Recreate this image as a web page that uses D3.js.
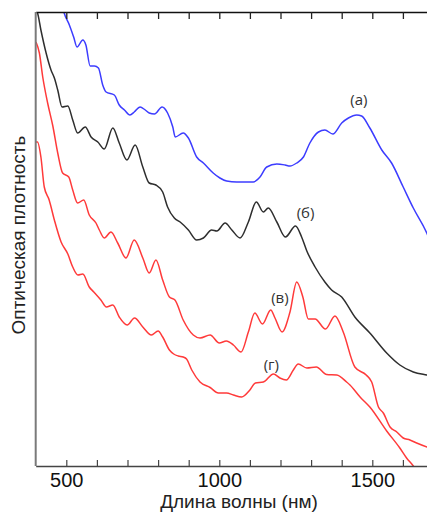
<!DOCTYPE html>
<html>
<head>
<meta charset="utf-8">
<script src="https://cdn.jsdelivr.net/npm/d3@7"></script>
<style>
  body { margin:0; background:#fff; }
  svg { display:block; }
  .tick text { font-family:"Liberation Sans", Arial, sans-serif; font-size:20px; fill:#111; }
  .curve-label { font-family:"Open Sans", sans-serif; font-size:15px; fill:#333; }
  .axis-title { font-family:"Liberation Sans", Arial, sans-serif; font-size:19px; fill:#222; }
</style>
</head>
<body>
<div id="chart"></div>
<script>
// spectra: [wavelength nm, optical density (arb. units)]
var curveA = [[486,4.61],[493,4.53],[510,4.41],[524,4.29],[535,4.19],[554,4.26],[564,4.21],[578,4.00],[592,4.00],
  [605,3.98],[619,3.81],[630,3.74],[657,3.71],[673,3.61],[690,3.56],[708,3.51],[722,3.54],[741,3.59],[758,3.56],
  [771,3.53],[788,3.52],[813,3.59],[831,3.53],[848,3.39],[856,3.29],[882,3.33],[899,3.28],[926,3.09],[948,3.03],
  [980,2.93],[1002,2.88],[1024,2.85],[1057,2.84],[1111,2.84],[1133,2.89],[1155,2.99],[1188,3.02],[1215,3.01],
  [1231,3.00],[1253,3.03],[1275,3.09],[1296,3.23],[1324,3.34],[1345,3.36],[1371,3.32],[1400,3.43],[1422,3.48],
  [1449,3.51],[1465,3.50],[1492,3.38],[1531,3.16],[1563,3.03],[1601,2.79],[1634,2.58],[1678,2.33],[1695,2.20]];

var curveB = [[401,4.56],[406,4.53],[417,4.36],[434,4.13],[450,3.96],[461,3.88],[472,3.76],[486,3.59],[505,3.60],
  [521,3.46],[537,3.33],[562,3.39],[581,3.29],[603,3.24],[624,3.17],[652,3.38],[673,3.23],[698,3.06],[725,3.21],
  [750,2.99],[771,2.83],[793,2.81],[815,2.74],[831,2.59],[853,2.48],[872,2.44],[899,2.36],[926,2.26],[948,2.28],
  [975,2.36],[992,2.35],[1019,2.43],[1041,2.36],[1068,2.28],[1095,2.44],[1121,2.64],[1144,2.54],[1160,2.58],
  [1188,2.44],[1216,2.29],[1249,2.40],[1269,2.29],[1286,2.15],[1313,1.99],[1345,1.84],[1367,1.76],[1400,1.69],
  [1443,1.49],[1492,1.33],[1547,1.13],[1590,1.01],[1634,0.94],[1678,0.91],[1695,0.90]];

var curveV = [[401,4.24],[412,4.13],[423,3.89],[439,3.63],[456,3.40],[472,3.13],[488,2.93],[508,2.89],[521,2.76],
  [537,2.63],[557,2.66],[575,2.51],[597,2.43],[608,2.36],[624,2.28],[646,2.34],[668,2.23],[695,2.08],[722,2.26],
  [750,2.08],[771,1.93],[793,2.06],[815,1.86],[837,1.69],[855,1.66],[882,1.46],[915,1.31],[937,1.28],[970,1.31],
  [1000,1.23],[1023,1.25],[1046,1.21],[1071,1.14],[1095,1.34],[1116,1.53],[1141,1.42],[1168,1.56],[1182,1.48],
  [1205,1.34],[1231,1.54],[1253,1.84],[1273,1.69],[1291,1.47],[1313,1.47],[1347,1.37],[1378,1.50],[1405,1.34],
  [1443,0.99],[1480,0.91],[1498,0.84],[1520,0.59],[1536,0.53],[1558,0.39],[1580,0.34],[1601,0.28],[1623,0.26],
  [1645,0.23],[1679,0.19],[1695,0.175]];

var curveG = [[401,3.24],[406,3.24],[417,3.09],[428,2.79],[444,2.66],[461,2.46],[483,2.24],[505,2.12],[521,1.99],
  [538,1.91],[554,1.92],[575,1.79],[590,1.74],[613,1.66],[631,1.59],[652,1.61],[673,1.49],[699,1.41],[723,1.48],
  [750,1.39],[778,1.31],[800,1.35],[815,1.29],[837,1.16],[851,1.12],[866,1.10],[882,1.09],[893,1.07],[910,0.96],
  [937,0.84],[970,0.785],[997,0.73],[1024,0.73],[1046,0.71],[1073,0.69],[1100,0.76],[1118,0.83],[1144,0.84],
  [1177,0.92],[1198,0.88],[1219,0.86],[1242,0.96],[1258,1.02],[1286,0.98],[1317,0.99],[1351,0.915],[1384,0.91],
  [1416,0.84],[1427,0.81],[1460,0.69],[1492,0.59],[1547,0.35],[1590,0.18],[1612,0.08],[1634,0.00],[1643,-0.04]];

var xTicks = [500,600,700,800,900,1000,1100,1200,1300,1400,1500,1600];
var xTickLabels = [500,1000,1500];

var seriesNames = ["(а)","(б)","(в)","(г)"];
var seriesColors = ["#3c3cff","#2e2e2e","#ff3a3a","#ff3a3a"];
// label anchor points [wavelength, od]
var labelPos = [[1456,3.61],[1282,2.48],[1198,1.63],[1170,0.96]];

var width = 427, height = 513;
var margin = { top:12, left:36, bottom:47 };

var svg = d3.select("#chart")
            .append("svg")
            .attr("width", width)
            .attr("height", height);

var x = d3.scaleLinear()
    .domain([400, 1700])
    .range([35.7, 35.7 + 1300 * 0.306]);

var y = d3.scaleLinear()
    .domain([0, 4.54])
    .range([height - margin.bottom, margin.top]);

svg.append("clipPath")
    .attr("id", "plotclip")
  .append("rect")
    .attr("x", 36)
    .attr("y", margin.top)
    .attr("width", width - 36)
    .attr("height", y(0) - margin.top);

var line = d3.line()
    .x(function(d){ return x(d[0]); })
    .y(function(d){ return y(d[1]); })
    .curve(d3.curveMonotoneX);

var allCurves = [curveA, curveB, curveV, curveG];

svg.append("g")
    .attr("clip-path", "url(#plotclip)")
  .selectAll(".spectrum")
    .data(allCurves)
    .enter().append("path")
    .attr("class", "spectrum")
    .attr("d", line)
    .attr("fill", "none")
    .attr("stroke", function(d, i){ return seriesColors[i]; })
    .attr("stroke-width", 1.5)
    .attr("stroke-linejoin", "round");

// top axis, ticks only
var topAxis = d3.axisTop(x)
    .tickValues(xTicks)
    .tickSizeInner(-7)
    .tickSizeOuter(0)
    .tickFormat("");

svg.append("g")
    .attr("transform", "translate(0," + margin.top + ")")
    .call(topAxis)
    .call(function(g){
      g.select(".domain").attr("stroke", "#111").attr("stroke-width", 1.5);
      g.selectAll(".tick line").attr("stroke", "#222").attr("stroke-width", 1.3);
    });

// bottom axis
var bottomAxis = d3.axisBottom(x)
    .tickValues(xTicks)
    .tickSizeInner(-6)
    .tickSizeOuter(0)
    .tickPadding(7)
    .tickFormat(function(d){ return xTickLabels.indexOf(d) >= 0 ? d : ""; });

svg.append("g")
    .attr("transform", "translate(0," + y(0) + ")")
    .call(bottomAxis)
    .call(function(g){
      g.select(".domain").attr("stroke", "#444").attr("stroke-width", 1.5);
      g.selectAll(".tick line").attr("stroke", "#444").attr("stroke-width", 1.2);
      g.selectAll(".tick text").attr("fill", "#111").style("font-size", "20px");
    });

// left axis line, no ticks
svg.append("line")
    .attr("x1", 35.7).attr("x2", 35.7)
    .attr("y1", margin.top).attr("y2", y(0))
    .attr("stroke", "#7a7a7a")
    .attr("stroke-width", 2);

// curve labels
svg.selectAll(".curve-label")
    .data(seriesNames)
    .enter().append("text")
    .attr("class", "curve-label")
    .attr("x", function(d, i){ return x(labelPos[i][0]); })
    .attr("y", function(d, i){ return y(labelPos[i][1]); })
    .attr("text-anchor", "middle")
    .text(function(d){ return d; });

// axis titles
svg.append("text")
    .attr("class", "axis-title")
    .attr("x", 239)
    .attr("y", 508)
    .attr("text-anchor", "middle")
    .text("Длина волны (нм)");

svg.append("text")
    .attr("class", "axis-title")
    .attr("transform", "translate(25,235) rotate(-90)")
    .attr("text-anchor", "middle")
    .text("Оптическая плотность");
</script>
</body>
</html>
